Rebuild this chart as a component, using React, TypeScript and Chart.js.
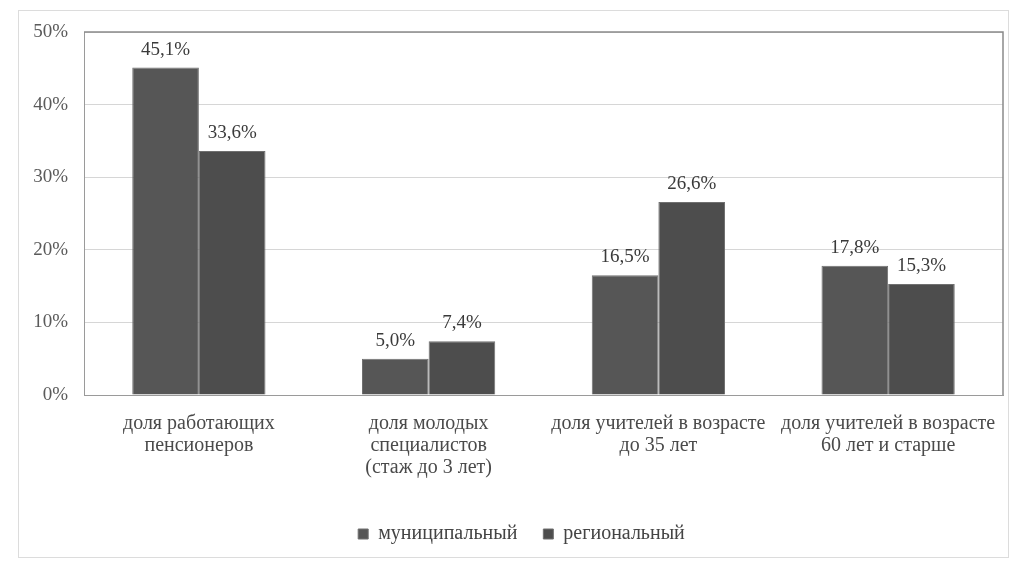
import React, { useEffect, useRef } from "react";
import { Chart, registerables } from "chart.js";

Chart.register(...registerables);

const categories: string[][] = [
  ["доля работающих", "пенсионеров"],
  ["доля молодых", "специалистов", "(стаж до 3 лет)"],
  ["доля учителей в возрасте", "до 35 лет"],
  ["доля учителей в возрасте", "60 лет и старше"],
];
const municipalValues = [45.1, 5.0, 16.5, 17.8];
const regionalValues = [33.6, 7.4, 26.6, 15.3];
const seriesNames = ["муниципальный", "региональный"];
const yTicks = [0, 10, 20, 30, 40, 50];

const FONT = "'Liberation Serif', 'DejaVu Serif', serif";

const fmt = (v: number) => v.toFixed(1).replace(".", ",") + "%";

const decorPlugin = {
  id: "decor",
  afterLayout(chart: any) {
    const lg = chart.legend;
    if (lg) {
      lg.left += 20;
      lg.right += 20;
    }
  },
  beforeDraw(chart: any) {
    const ctx = chart.ctx;
    ctx.save();
    ctx.fillStyle = "#ffffff";
    ctx.fillRect(0, 0, chart.width, chart.height);
    ctx.strokeStyle = "#dcdcdc";
    ctx.lineWidth = 1;
    ctx.strokeRect(18.5, 10.5, 990, 547);
    ctx.restore();
  },
  afterDatasetsDraw(chart: any) {
    const ctx = chart.ctx;
    const a = chart.chartArea;
    ctx.save();
    ctx.strokeStyle = "#8a8a8a";
    ctx.lineWidth = 1.5;
    ctx.beginPath();
    ctx.moveTo(a.left, a.top);
    ctx.lineTo(a.right, a.top);
    ctx.lineTo(a.right, a.bottom);
    ctx.stroke();
    ctx.font = `19px ${FONT}`;
    ctx.fillStyle = "#3a3a3a";
    ctx.textAlign = "center";
    ctx.textBaseline = "middle";
    chart.data.datasets.forEach((ds: any, i: number) => {
      const meta = chart.getDatasetMeta(i);
      meta.data.forEach((bar: any, j: number) => {
        ctx.fillText(fmt(ds.data[j]), bar.x, bar.y - 18);
      });
    });
    ctx.restore();
  },
};

export default function App() {
  const ref = useRef<HTMLCanvasElement | null>(null);
  useEffect(() => {
    document.body.style.margin = "0";
    if (!ref.current) return;
    const chart = new Chart(ref.current, {
      type: "bar",
      data: {
        labels: categories,
        datasets: [
          {
            label: seriesNames[0],
            data: municipalValues,
            backgroundColor: "#565656",
            borderColor: "#707070",
            borderWidth: 1,
          },
          {
            label: seriesNames[1],
            data: regionalValues,
            backgroundColor: "#4d4d4d",
            borderColor: "#707070",
            borderWidth: 1,
          },
        ],
      },
      options: {
        animation: false,
        responsive: false,
        events: [],
        layout: { padding: { top: 32, right: 9, left: 0, bottom: 10 } },
        datasets: {
          bar: { categoryPercentage: 0.58, barPercentage: 1 },
        },
        scales: {
          x: {
            grid: { display: false },
            border: { color: "#9a9a9a", width: 1 },
            ticks: {
              font: { family: FONT, size: 20, lineHeight: 1.1 },
              color: "#4a4a4a",
              padding: 10,
              maxRotation: 0,
              autoSkip: false,
            },
            afterFit: (scale: any) => {
              scale.height = 103;
            },
          },
          y: {
            min: 0,
            max: 50,
            afterBuildTicks: (scale: any) => {
              scale.ticks = yTicks.map((v) => ({ value: v }));
            },
            grid: { color: "#d6d6d6", drawTicks: false },
            border: { color: "#9a9a9a", width: 1 },
            ticks: {
              font: { family: FONT, size: 19 },
              color: "#5a5a5a",
              padding: 16,
              callback: (v: any) => v + "%",
            },
            afterFit: (scale: any) => {
              scale.width = 84;
            },
          },
        },
        plugins: {
          legend: {
            position: "bottom",
            labels: {
              font: { family: FONT, size: 20 },
              color: "#444444",
              boxWidth: 10,
              boxHeight: 10,
              padding: 26,
            },
          },
          tooltip: { enabled: false },
        },
      },
      plugins: [decorPlugin],
    });
    return () => chart.destroy();
  }, []);
  return <canvas ref={ref} width={1012} height={564} style={{ display: "block" }} />;
}
